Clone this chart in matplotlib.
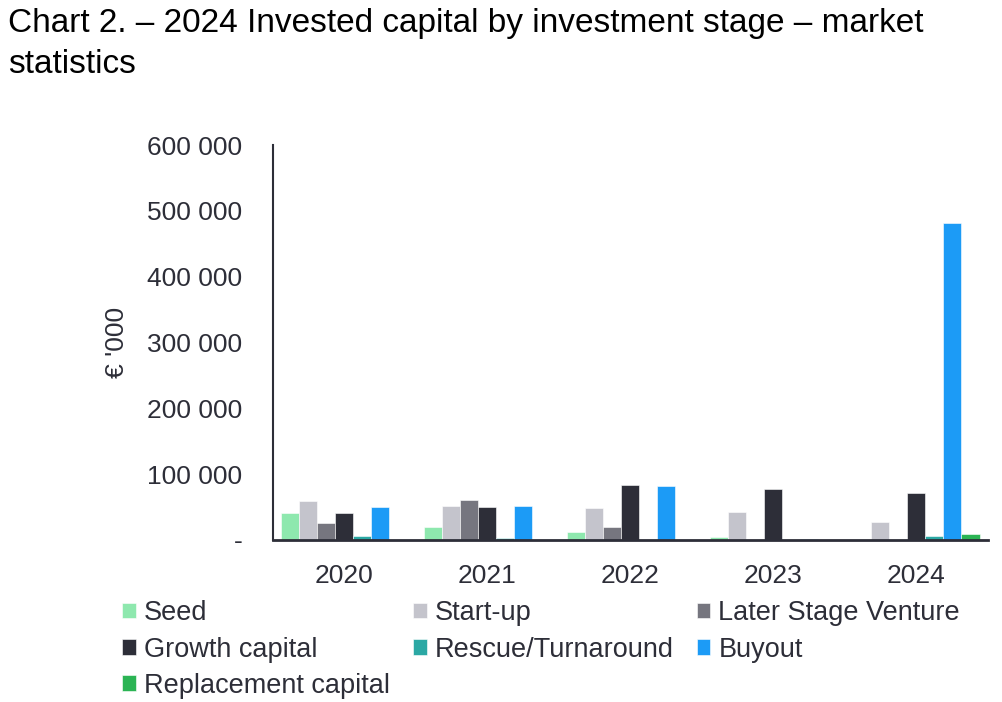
import matplotlib.pyplot as plt
import numpy as np

plt.rcParams['font.family'] = ['Liberation Sans', 'DejaVu Sans']

years = ["2020", "2021", "2022", "2023", "2024"]
stages = ["Seed", "Start-up", "Later Stage Venture", "Growth capital",
          "Rescue/Turnaround", "Buyout", "Replacement capital"]
colors = ["#8EE8AE", "#C4C4CC", "#76767F", "#2D2E38",
          "#2BA8A4", "#1C9BF6", "#2BB454"]

# € '000 per stage, one value per year
seed = [41000, 19000, 12000, 5000, 0]
start_up = [59000, 51000, 48000, 42000, 28000]
later_stage = [26000, 61000, 19000, 0, 0]
growth = [41000, 50000, 83000, 77000, 71000]
rescue = [6000, 3000, 0, 0, 6000]
buyout = [50000, 52000, 81500, 2000, 481500]
replacement = [0, 0, 0, 0, 9000]

series = [seed, start_up, later_stage, growth, rescue, buyout, replacement]
txt = "#2D2E38"

fig = plt.figure(figsize=(10.03, 7.02), dpi=100)
ax = fig.add_axes([0.272, 0.2308, 0.713, 0.5626])

x = np.arange(len(years))
w = 0.126
handles = []
for i, (vals, c, name) in enumerate(zip(series, colors, stages)):
    b = ax.bar(x + (i - 3) * w, vals, width=w, color=c, label=name,
               edgecolor="white", linewidth=0.4)
    handles.append(b)

ax.set_xlim(-0.5, 4.5)
ax.set_ylim(0, 600000)
ax.set_yticks(range(0, 600001, 100000))
ax.set_yticklabels(["-"] + [f"{v // 1000} 000" for v in range(100000, 600001, 100000)])
ax.set_xticks(x)
ax.set_xticklabels(years)
ax.tick_params(length=0, labelsize=19, colors=txt)
ax.tick_params(axis="y", pad=22)
ax.tick_params(axis="x", pad=17)
for s in ["top", "right"]:
    ax.spines[s].set_visible(False)
ax.spines["left"].set_color("#2D2E38")
ax.spines["bottom"].set_color("#2D2E38")
ax.spines["left"].set_linewidth(1.5)
ax.spines["bottom"].set_linewidth(2)
ax.set_ylabel("€ '000", fontsize=19, color=txt, labelpad=13)

fig.text(0.008, 0.988, "Chart 2. – 2024 Invested capital by investment stage – market\nstatistics",
         fontsize=24, va="top", ha="left", linespacing=1.4)

# legend fills by row in the reference
order = [0, 3, 6, 1, 4, 2, 5]
leg = fig.legend([handles[i] for i in order], [stages[i] for i in order],
                 ncol=3, loc="upper left", bbox_to_anchor=(0.122, 0.145),
                 frameon=False, fontsize=19.5, handlelength=0.5, handleheight=0.5,
                 handletextpad=0.3, columnspacing=0.85, labelspacing=0.38,
                 borderpad=0, borderaxespad=0)
for t in leg.get_texts():
    t.set_color(txt)

fig.savefig("out.png", dpi=100)
